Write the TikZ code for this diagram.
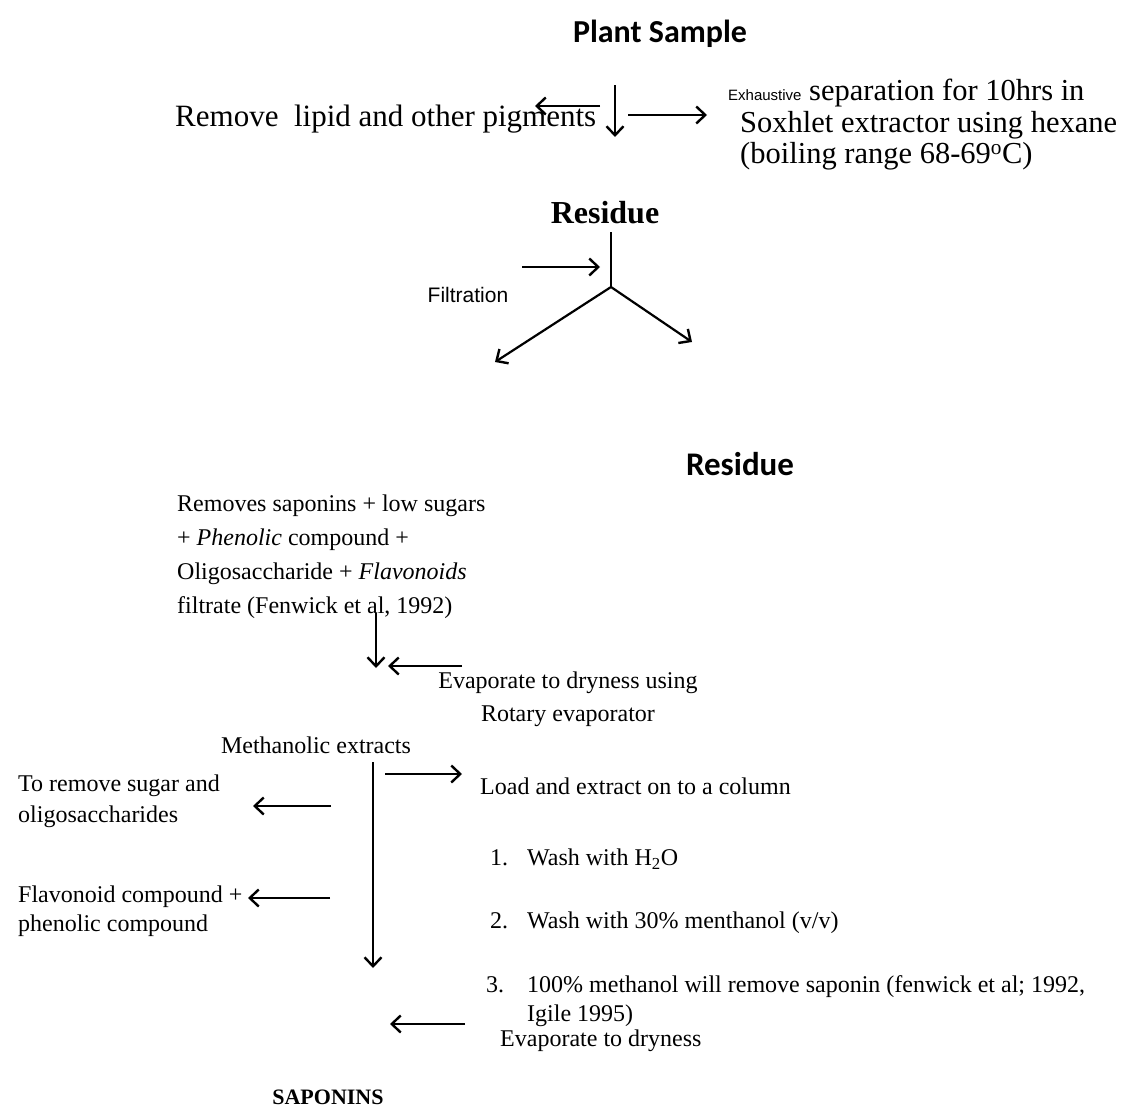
\documentclass[tikz,border=0pt]{standalone}
\usepackage{fontspec}
\setmainfont{Liberation Serif}
\newfontfamily\calibri{Carlito}
\newfontfamily\arialf{Liberation Sans}
\usetikzlibrary{arrows.meta}
\begin{document}
\begin{tikzpicture}[x=1pt,y=-1pt,
		txt/.style={inner sep=0pt, font=\fontsize{24}{34}\selectfont},
		arr/.style={line width=2.2pt, -{Straight Barb[length=9pt,width=17pt,line width=2.4pt]}},
		ln/.style={line width=2.2pt}]
		\useasboundingbox (0,0) rectangle (1136,1111);
		
		% Plant sample and hexane extraction
		\node[inner sep=0pt, font=\calibri\bfseries\fontsize{32}{38}\selectfont] (plant) at (660,34) {Plant Sample};
		\node[txt, anchor=west, font=\fontsize{31}{36}\selectfont] (lipid) at (175,119) {Remove\ \ lipid and other pigments};
		\node[txt, anchor=west, align=left, font=\fontsize{30.5}{31.5}\selectfont] (soxhlet) at (740,125)
		{\hspace*{-12pt}{\arialf\fontsize{15}{15}\selectfont Exhaustive} separation for 10hrs in\\
			Soxhlet extractor using hexane\\
			(boiling range 68-69\textsuperscript{o}C)};
		\node[txt, font=\bfseries\fontsize{32}{36}\selectfont] (res1) at (605,213) {Residue};
		
		\coordinate (lipidS) at (600,106);
		\coordinate (lipidE) at (535,106);
		\coordinate (downS) at (615,85);
		\coordinate (downE) at (615,137);
		\coordinate (soxS) at (628,115);
		\coordinate (soxE) at (707,115);
		\draw[arr] (lipidS) -- (lipidE);
		\draw[arr] (downS) -- (downE);
		\draw[arr] (soxS) -- (soxE);
		
		% Filtration
		\coordinate (fTop) at (611,232);
		\coordinate (fJoin) at (611,287);
		\coordinate (fIn) at (522,267);
		\coordinate (fInE) at (600,267);
		\coordinate (fLeft) at (495,362);
		\coordinate (fRight) at (692,342);
		\node[inner sep=0pt, font=\arialf\fontsize{21}{24}\selectfont] (filt) at (468,295) {Filtration};
		\draw[ln] (fTop) -- (fJoin);
		\draw[arr] (fIn) -- (fInE);
		\draw[arr] (fJoin) -- (fLeft);
		\draw[arr] (fJoin) -- (fRight);
		
		% Methanol extraction
		\node[inner sep=0pt, font=\calibri\bfseries\fontsize{33}{38}\selectfont] (res2) at (740,464) {Residue};
		\node[txt, anchor=west, align=left] (filtrate) at (177,557)
		{Removes saponins + low sugars\\
			+ \textit{Phenolic} compound +\\
			Oligosaccharide + \textit{Flavonoids}\\
			filtrate (Fenwick et al, 1992)};
		\node[txt, align=center, font=\fontsize{24}{33}\selectfont] (rotary) at (568,699) {Evaporate to dryness using\\ Rotary evaporator};
		\node[txt] (meth) at (316,745) {Methanolic extracts};
		
		\coordinate (eS) at (376,613);
		\coordinate (eE) at (376,668);
		\coordinate (rS) at (462,666);
		\coordinate (rE) at (388,666);
		\draw[arr] (eS) -- (eE);
		\draw[arr] (rS) -- (rE);
		
		% Column
		\node[txt, anchor=west] (load) at (480,786) {Load and extract on to a column};
		\node[txt, anchor=west] (wash1) at (490,859) {\makebox[37pt][l]{1.}Wash with H\textsubscript{2}O};
		\node[txt, anchor=west] (wash2) at (490,923) {\makebox[37pt][l]{2.}Wash with 30\% menthanol (v/v)};
		\node[txt, anchor=west, align=left, font=\fontsize{24}{29}\selectfont] (wash3) at (486,1001)
		{\makebox[41pt][l]{3.}100\% methanol will remove saponin (fenwick et al; 1992,\\
			\hspace*{41pt}Igile 1995)};
		\node[txt, anchor=west] (evap) at (500,1041) {Evaporate to dryness};
		\node[txt, anchor=west, align=left, font=\fontsize{24}{31}\selectfont] (sugar) at (18,801) {To remove sugar and\\ oligosaccharides};
		\node[txt, anchor=west, align=left, font=\fontsize{24}{29}\selectfont] (flav) at (18,911) {Flavonoid compound +\\ phenolic compound};
		\node[txt, font=\bfseries\fontsize{22}{26}\selectfont] (sap) at (328,1097) {SAPONINS};
		
		\coordinate (mS) at (373,762);
		\coordinate (mE) at (373,968);
		\coordinate (lS) at (385,774);
		\coordinate (lE) at (462,774);
		\coordinate (sS) at (331,806);
		\coordinate (sE) at (253,806);
		\coordinate (pS) at (330,898);
		\coordinate (pE) at (248,898);
		\coordinate (vS) at (465,1024);
		\coordinate (vE) at (390,1024);
		\draw[arr] (mS) -- (mE);
		\draw[arr] (lS) -- (lE);
		\draw[arr] (sS) -- (sE);
		\draw[arr] (pS) -- (pE);
		\draw[arr] (vS) -- (vE);
	\end{tikzpicture}
\end{document}
